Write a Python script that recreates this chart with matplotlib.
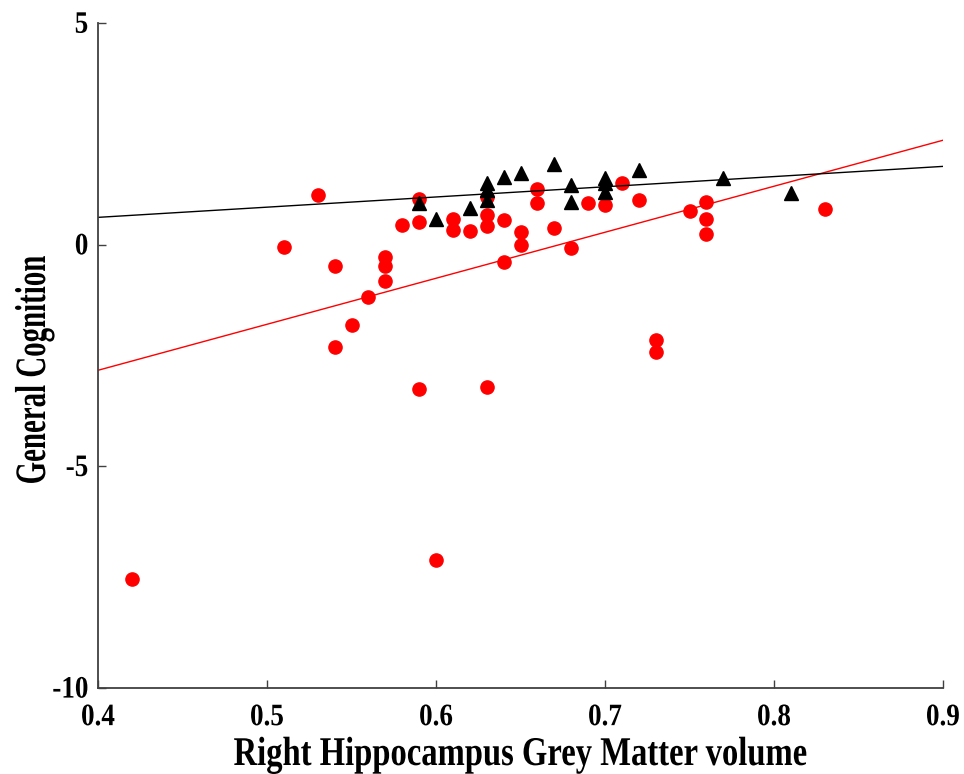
import matplotlib
matplotlib.use("Agg")
import matplotlib.pyplot as plt
from matplotlib.patheffects import AbstractPathEffect
from matplotlib.transforms import Affine2D

# Group 1 (red circles)
red_x = [0.42, 0.51, 0.53, 0.54, 0.54, 0.55, 0.56, 0.57, 0.57, 0.57,
         0.58, 0.59, 0.59, 0.59, 0.60, 0.61, 0.61, 0.62, 0.63, 0.63,
         0.63, 0.63, 0.64, 0.64, 0.65, 0.65, 0.66, 0.66, 0.67, 0.68,
         0.69, 0.70, 0.71, 0.72, 0.73, 0.73, 0.75, 0.76, 0.76, 0.76,
         0.83]
red_y = [-7.54, -0.05, 1.12, -0.48, -2.31, -1.81, -1.18, -0.28, -0.48, -0.82,
         0.44, 1.03, 0.51, -3.26, -7.10, 0.58, 0.33, 0.31, 1.07, 0.67,
         0.42, -3.21, 0.56, -0.39, 0.29, -0.01, 1.26, 0.94, 0.37, -0.07,
         0.94, 0.89, 1.39, 1.01, -2.15, -2.42, 0.76, 0.96, 0.58, 0.24,
         0.80]

# Group 2 (black triangles)
black_x = [0.59, 0.60, 0.62, 0.63, 0.63, 0.63, 0.64, 0.65, 0.67, 0.68,
           0.68, 0.70, 0.70, 0.70, 0.72, 0.77, 0.81]
black_y = [0.94, 0.58, 0.83, 1.39, 1.23, 1.01, 1.53, 1.62, 1.82, 1.35,
           0.96, 1.50, 1.39, 1.19, 1.69, 1.50, 1.17]

# Least-squares fit lines, evaluated at the axis limits
fit_x = [0.4, 0.9]
red_fit_y = [-2.83, 2.36]
black_fit_y = [0.62, 1.77]

x_ticks = [0.4, 0.5, 0.6, 0.7, 0.8, 0.9]
x_tick_labels = ["0.4", "0.5", "0.6", "0.7", "0.8", "0.9"]
y_ticks = [-10, -5, 0, 5]
y_tick_labels = ["-10", "-5", "0", "5"]

X_LABEL = "Right Hippocampus Grey Matter volume"
Y_LABEL = "General Cognition"

W, H = 964, 774


class Tall(AbstractPathEffect):
    """Stretch glyphs along their own vertical axis, keeping the baseline."""

    def __init__(self, factor):
        super().__init__()
        self.factor = factor

    def draw_path(self, renderer, gc, tpath, affine, rgbFace=None):
        stretch = Affine2D().scale(1.0, self.factor)
        renderer.draw_path(gc, tpath, stretch + affine, rgbFace)


plt.rcParams.update({
    "font.family": "Liberation Serif",
    "font.weight": "bold",
})

fig = plt.figure(figsize=(W / 100, H / 100), dpi=100)
ax = fig.add_axes([0.1017, 0.111, 0.8765, 0.859])

ax.plot(red_x, red_y, linestyle="none", marker="o", markersize=9.5,
        color="#ff0000", markeredgecolor="#ff0000")
ax.plot(black_x, black_y, linestyle="none", marker="^", markersize=10,
        color="black")
ax.plot(fit_x, red_fit_y, color="#ff0000", linewidth=1.0)
ax.plot(fit_x, black_fit_y, color="black", linewidth=1.0)

ax.set_xlim(0.4, 0.9)
ax.set_ylim(-10, 5)
tick_fx = [Tall(1.15)]
ax.set_xticks(x_ticks)
ax.set_xticklabels(x_tick_labels, fontsize=19.5, path_effects=tick_fx)
ax.set_yticks(y_ticks)
ax.set_yticklabels(y_tick_labels, fontsize=19.5, path_effects=tick_fx)

for side in ("top", "right"):
    ax.spines[side].set_visible(False)
for side in ("left", "bottom"):
    ax.spines[side].set_color("#404040")
    ax.spines[side].set_linewidth(1.3)
ax.tick_params(direction="in", length=6, width=1.0, color="#404040")
ax.tick_params(axis="x", pad=13)
ax.tick_params(axis="y", pad=7)

# axis titles, anchored on their baselines
fig.text(520 / W, (H - 765) / H, X_LABEL, fontsize=23.5,
         ha="center", va="baseline", path_effects=[Tall(1.25)])
fig.text(45 / W, (H - 370) / H, Y_LABEL, fontsize=20.8, rotation=90,
         rotation_mode="anchor", ha="center", va="baseline",
         path_effects=[Tall(1.5)])

fig.savefig("out.png", dpi=100)
